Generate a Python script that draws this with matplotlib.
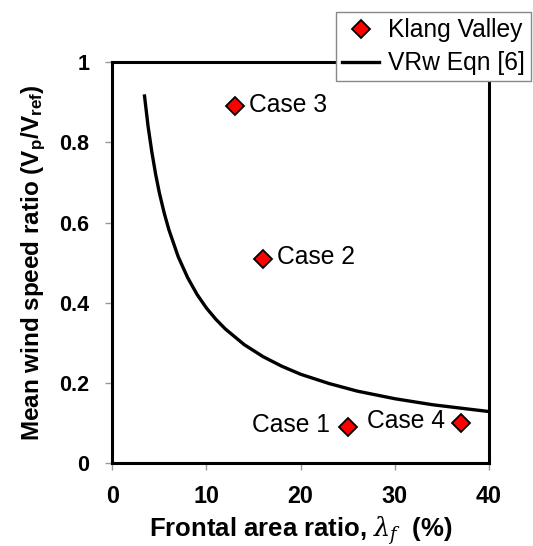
import matplotlib
matplotlib.use("Agg")
import matplotlib.pyplot as plt
from matplotlib.lines import Line2D

plt.rcParams['font.family'] = ['Liberation Sans', 'DejaVu Sans']
plt.rcParams['mathtext.fontset'] = 'custom'
plt.rcParams['mathtext.rm'] = 'Liberation Sans:bold'
plt.rcParams['mathtext.bf'] = 'Liberation Sans:bold'
plt.rcParams['mathtext.it'] = 'DejaVu Serif:italic'

# Measured data (Klang Valley cases)
case_x = [25, 16, 13, 37]
case_y = [0.09, 0.51, 0.89, 0.10]
case_labels = ["Case 1", "Case 2", "Case 3", "Case 4"]

# VRw Eqn [6] curve
curve_x = [3.4, 3.8, 4.2, 4.6, 5.0, 5.5, 6, 7, 8, 9, 10, 11, 12, 14, 16, 18, 20, 23, 26, 30, 34, 40]
curve_y = [0.92, 0.84, 0.776, 0.721, 0.674, 0.625, 0.583, 0.515, 0.463, 0.421, 0.387, 0.359,
           0.335, 0.296, 0.266, 0.242, 0.222, 0.199, 0.180, 0.161, 0.146, 0.129]

x_ticks = [0, 10, 20, 30, 40]
y_ticks = [0, 0.2, 0.4, 0.6, 0.8, 1]
y_ticklabels = ["0", "0.2", "0.4", "0.6", "0.8", "1"]

fig = plt.figure(figsize=(5.33, 5.46), dpi=100)
ax = fig.add_axes([0.2107, 0.1515, 0.9175 - 0.2107, 0.8859 - 0.1515])

ax.plot(curve_x, curve_y, color='black', lw=2.4, solid_capstyle='butt', zorder=2)
ax.plot(case_x, case_y, linestyle='none', marker='D', markersize=9.5,
        markerfacecolor='#ff0000', markeredgecolor='black', markeredgewidth=1.3, zorder=3)

# annotations
offsets = {"Case 1": (-12.5, 1.5, 'right'), "Case 2": (10, 1, 'left'),
           "Case 3": (10, 1, 'left'), "Case 4": (-11.5, 1.5, 'right')}
for xv, yv, lab in zip(case_x, case_y, case_labels):
    dx, dy, ha = offsets[lab]
    ax.annotate(lab, (xv, yv), xytext=(dx, dy), textcoords='offset points',
                ha=ha, va='center', fontsize=17.7)

ax.set_xlim(0, 40)
ax.set_ylim(0, 1)
ax.set_xticks(x_ticks)
ax.set_yticks(y_ticks)
ax.set_yticklabels(y_ticklabels)
for lab in ax.get_xticklabels():
    lab.set_fontweight('bold')
    lab.set_fontsize(16.8)
for lab in ax.get_yticklabels():
    lab.set_fontweight('bold')
    lab.set_fontsize(15.5)
ax.tick_params(direction='out', length=5, width=1, color='#999999')
ax.tick_params(axis='x', pad=10.5)
ax.tick_params(axis='y', pad=11.5)
for sp in ax.spines.values():
    sp.set_linewidth(2.2)
    sp.set_color('black')

ax.set_xlabel(r'Frontal area ratio, $\mathit{\lambda_f}$  (%)', fontsize=18.5, fontweight='bold',
              labelpad=4.5)
ax.set_ylabel(r'Mean wind speed ratio (V$_\mathbf{p}$/V$_\mathbf{ref}$)', fontsize=17.5,
              fontweight='bold', labelpad=8)

handles = [Line2D([], [], linestyle='none', marker='D', markersize=9.5,
                  markerfacecolor='#ff0000', markeredgecolor='black', markeredgewidth=1.3),
           Line2D([], [], color='black', lw=2.4)]
leg = fig.legend(handles, ["Klang Valley", "VRw Eqn [6]"], loc='upper left',
                 bbox_to_anchor=(336 / 533, 1 - 12 / 546), borderaxespad=0,
                 fontsize=17.7, frameon=True,
                 fancybox=False, edgecolor='#888888', framealpha=1, borderpad=0.25,
                 handlelength=1.5, handletextpad=0.35, labelspacing=0.37)
leg.get_frame().set_linewidth(1)

fig.savefig("out.png", dpi=100)
